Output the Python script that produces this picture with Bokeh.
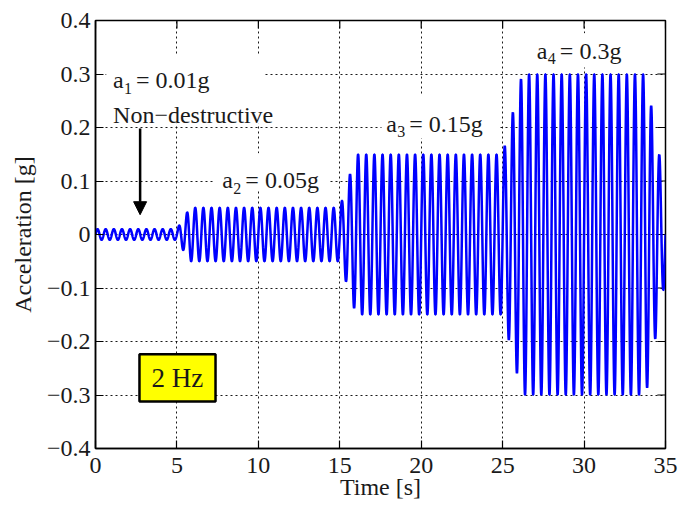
import numpy as np
from bokeh.plotting import figure
from bokeh.models import (Label, Arrow, NormalHead, FixedTicker,
                          Range1d, BoxAnnotation, ColumnDataSource)
from bokeh.embed import file_html
from bokeh.resources import INLINE

# ---------------- data ----------------
freq_hz = 2.0                       # excitation frequency
env_time = [0.0, 5.0, 5.8, 15.0, 16.0, 25.0, 26.2, 33.8, 35.0]     # s
env_amp = [0.01, 0.01, 0.05, 0.05, 0.15, 0.15, 0.30, 0.30, 0.08]   # g (peak)
sample_dt = 0.01

x_ticks = [0, 5, 10, 15, 20, 25, 30, 35]
y_ticks = [-0.4, -0.3, -0.2, -0.1, 0.0, 0.1, 0.2, 0.3, 0.4]
y_tick_labels = ["\u22120.4", "\u22120.3", "\u22120.2", "\u22120.1", "0",
                 "0.1", "0.2", "0.3", "0.4"]

level_subs = ["1", "2", "3", "4"]
level_texts = ["= 0.01g", "= 0.05g", "= 0.15g", "= 0.3g"]
note_text = "Non\u2212destructive"
freq_text = "2 Hz"

# ---------------- signal ----------------
t = np.arange(0.0, 35.0 + 1e-9, sample_dt)
env = np.interp(t, env_time, env_amp)
acc = env * np.sin(2 * np.pi * freq_hz * t)
src = ColumnDataSource(dict(t=t, acc=acc))

FONT = "Liberation Serif"
TXT = "#1a1a1a"
X0, X1, Y0, Y1 = 0, 35, -0.4, 0.4

p = figure(width=678, height=502, output_backend="svg", toolbar_location=None,
           x_range=Range1d(X0, X1), y_range=Range1d(Y0, Y1),
           min_border_left=95, min_border_right=13, min_border_top=20,
           min_border_bottom=10)
p.background_fill_color = "white"
p.border_fill_color = "white"
p.outline_line_color = "black"
p.outline_line_width = 1.5
p.outline_line_alpha = 1.0

# grid
for g in (p.xgrid, p.ygrid):
    g.grid_line_color = "black"
    g.grid_line_dash = "2 3"
    g.grid_line_width = 1
    g.grid_line_alpha = 0.9
p.xgrid.ticker = FixedTicker(ticks=x_ticks)
p.ygrid.ticker = FixedTicker(ticks=y_ticks)

# axes
p.xaxis.ticker = FixedTicker(ticks=x_ticks)
p.yaxis.ticker = FixedTicker(ticks=y_ticks)
p.yaxis.major_label_overrides = {v: s for v, s in zip(y_ticks, y_tick_labels)}
p.xaxis.major_label_overrides = {v: str(v) for v in x_ticks}
for ax in (p.xaxis[0], p.yaxis[0]):
    ax.major_tick_in = 8
    ax.major_tick_out = 0
    ax.minor_tick_in = 0
    ax.minor_tick_out = 0
    ax.major_tick_line_color = "black"
    ax.major_tick_line_width = 1.2
    ax.axis_line_color = "black"
    ax.axis_line_width = 1.5
    ax.major_label_text_font = FONT
    ax.major_label_text_font_size = "24px"
    ax.major_label_text_color = TXT
    ax.axis_label_text_font = FONT
    ax.axis_label_text_font_size = "24px"
    ax.axis_label_text_font_style = "normal"
    ax.axis_label_text_color = TXT
p.xaxis.axis_label = "Time [s]"
p.yaxis.axis_label = "Acceleration [g]"
p.xaxis.major_label_standoff = 9
p.xaxis.axis_label_standoff = -2
p.yaxis.major_label_standoff = 5
p.yaxis.axis_label_standoff = 8

# mirrored inward ticks on the top and right frame edges
tick_dy = 0.015          # ~8 px
tick_dx = 0.5            # ~8 px
p.segment(x0=x_ticks, y0=[Y1] * len(x_ticks), x1=x_ticks,
          y1=[Y1 - tick_dy] * len(x_ticks), line_color="black", line_width=1.2)
p.segment(x0=[X1] * len(y_ticks), y0=y_ticks, x1=[X1 - tick_dx] * len(y_ticks),
          y1=y_ticks, line_color="black", line_width=1.2)

# signal
p.line("t", "acc", source=src, line_color="#0000ff", line_width=2.5)

# white backgrounds behind the annotation texts (hide grid lines)
for l, r, tp, b in [(0.66, 10.4, 0.336, 0.207),
                    (7.25, 14.4, 0.152, 0.083),
                    (17.56, 24.75, 0.262, 0.180),
                    (26.84, 32.53, 0.376, 0.312)]:
    p.add_layout(BoxAnnotation(left=l, right=r, top=tp, bottom=b,
                               fill_color="white", fill_alpha=1.0,
                               line_color=None))

# level labels with subscripts
label_pos = [(1.08, 0.288), (7.79, 0.101), (17.85, 0.207), (27.1, 0.343)]
for (lx, ly), sub, txt in zip(label_pos, level_subs, level_texts):
    common = dict(x=lx, y=ly, text_font=FONT, text_color=TXT,
                  text_baseline="alphabetic", text_align="left")
    p.add_layout(Label(text="a", text_font_size="24px", **common))
    p.add_layout(Label(text=sub, text_font_size="16px", x_offset=11,
                       y_offset=-8, **common))
    p.add_layout(Label(text=txt, text_font_size="24px", x_offset=23, **common))

p.add_layout(Label(x=1.08, y=0.224, text=note_text, text_font=FONT,
                   text_font_size="24px", text_color=TXT,
                   text_baseline="alphabetic", text_align="left"))

# arrow
p.add_layout(Arrow(x_start=2.74, y_start=0.198, x_end=2.74, y_end=0.037,
                   line_color="black", line_width=2.5,
                   end=NormalHead(size=13, fill_color="black",
                                  line_color="black")))

# 2 Hz box
p.add_layout(BoxAnnotation(left=2.70, right=7.37, top=-0.224, bottom=-0.312,
                           fill_color="#ffff00", fill_alpha=1.0,
                           line_color="black", line_alpha=1.0, line_width=2.5))
p.add_layout(Label(x=5.03, y=-0.268, text=freq_text, text_font=FONT,
                   text_font_size="27px", text_color=TXT,
                   text_baseline="middle", text_align="center"))

open("out.html", "w").write(file_html(p, INLINE))
